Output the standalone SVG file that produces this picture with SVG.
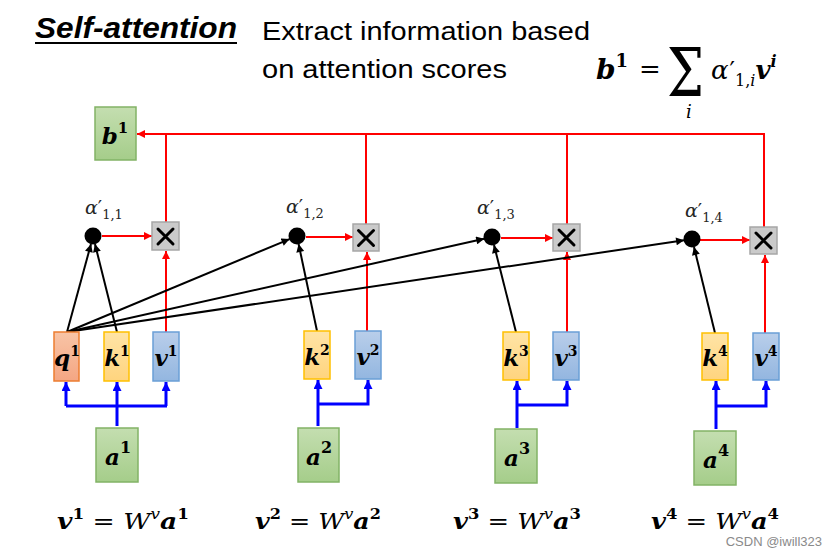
<svg xmlns="http://www.w3.org/2000/svg" width="833" height="557" viewBox="0 0 833 557">
<style>
.sans{font-family:"Liberation Sans",Arial,sans-serif;}
.math{font-family:"DejaVu Serif","Liberation Serif",serif;}
.bi{font-weight:bold;font-style:italic;}
.it{font-style:italic;font-weight:normal;}
.up{font-style:normal;font-weight:bold;}
.rm{font-style:normal;font-weight:normal;}
.lbl{font-family:"DejaVu Serif","Liberation Serif",serif;font-weight:bold;font-style:italic;font-size:23px;fill:#000;text-anchor:middle;}
.q{fill:url(#gq);stroke:#ED7D31;stroke-width:1.5;}
.k{fill:url(#gk);stroke:#FFC000;stroke-width:1.5;}
.v{fill:url(#gv);stroke:#6A9FD6;stroke-width:1.5;}
.g{fill:url(#gg);stroke:#82B366;stroke-width:1.5;}
.mul{fill:#CACACA;stroke:#A6A6A6;stroke-width:1.5;}
.xm{stroke:#000;stroke-width:3;stroke-linecap:round;}
.dot{fill:#000;}
.red{fill:none;stroke:#FF0000;stroke-width:2;}
.blk{fill:none;stroke:#000;stroke-width:2;}
.blu{fill:none;stroke:#0000FF;stroke-width:3;}
.alpha{font-family:"DejaVu Serif","Liberation Serif",serif;fill:#262626;}
</style>
<defs>
<linearGradient id="gq" x1="0" y1="0" x2="0" y2="1"><stop offset="0" stop-color="#F8C4A6"/><stop offset="1" stop-color="#F4A683"/></linearGradient>
<linearGradient id="gk" x1="0" y1="0" x2="0" y2="1"><stop offset="0" stop-color="#FFE4A6"/><stop offset="1" stop-color="#FFD47E"/></linearGradient>
<linearGradient id="gv" x1="0" y1="0" x2="0" y2="1"><stop offset="0" stop-color="#B9CEEA"/><stop offset="1" stop-color="#93B6E0"/></linearGradient>
<linearGradient id="gg" x1="0" y1="0" x2="0" y2="1"><stop offset="0" stop-color="#C4DEB0"/><stop offset="1" stop-color="#A5CD8A"/></linearGradient>
<marker id="ar" viewBox="0 0 10 10" refX="10" refY="5" markerWidth="9" markerHeight="8" markerUnits="userSpaceOnUse" orient="auto"><path d="M0,0 L10,5 L0,10 z" fill="#FF0000"/></marker>
<marker id="ab" viewBox="0 0 10 10" refX="10" refY="5" markerWidth="9" markerHeight="8" markerUnits="userSpaceOnUse" orient="auto"><path d="M0,0 L10,5 L0,10 z" fill="#000"/></marker>
<marker id="au" viewBox="0 0 10 10" refX="10" refY="5" markerWidth="9" markerHeight="9" markerUnits="userSpaceOnUse" orient="auto"><path d="M0,0 L10,5 L0,10 z" fill="#0000FF"/></marker>
</defs>
<rect width="833" height="557" fill="#FFFFFF"/>

<g id="title">
<text class="sans bi" x="35" y="38" font-size="29" textLength="202" lengthAdjust="spacingAndGlyphs" fill="#000">Self-attention</text>
<line x1="35" y1="43" x2="237" y2="43" stroke="#000" stroke-width="2"/>
<text class="sans" x="262" y="40" font-size="25" textLength="328" lengthAdjust="spacingAndGlyphs" fill="#000">Extract information based</text>
<text class="sans" x="262" y="78" font-size="25" textLength="245" lengthAdjust="spacingAndGlyphs" fill="#000">on attention scores</text>
</g>

<g id="formula" class="math" fill="#000">
<text x="596" y="79" font-size="28" class="bi">b<tspan class="up" font-size="18" dy="-12">1</tspan><tspan class="rm" font-size="26" x="639" y="78">=</tspan><tspan class="rm" font-size="68" x="667" y="96" textLength="37" lengthAdjust="spacingAndGlyphs">Σ</tspan><tspan class="it" font-size="18" x="686" y="118">i</tspan><tspan class="it" font-size="26" x="711" y="79">α</tspan><tspan class="rm" font-size="24" dx="1">′</tspan><tspan class="rm" font-size="16" dy="7">1,</tspan><tspan class="it" font-size="16">i</tspan><tspan font-size="26" class="bi" dy="-7">v</tspan><tspan font-size="16" dy="-12" class="bi">i</tspan></text>
</g>

<g id="connectors">
<path class="red" d="M765,134 L137,134" marker-end="url(#ar)"/>
<path class="red" d="M166,222 V134 M366,224 V134 M567,224 V134 M764,227 V134"/>
<path class="red" d="M102,236 H152" marker-end="url(#ar)"/>
<path class="red" d="M306,237 H353" marker-end="url(#ar)"/>
<path class="red" d="M501,238 H553" marker-end="url(#ar)"/>
<path class="red" d="M700,240 H750" marker-end="url(#ar)"/>
<path class="red" d="M166,332 V251" marker-end="url(#ar)"/>
<path class="red" d="M367,331 V252" marker-end="url(#ar)"/>
<path class="red" d="M567,332 V252" marker-end="url(#ar)"/>
<path class="red" d="M765,333 V255" marker-end="url(#ar)"/>
<path class="blk" d="M67,332 L91,244" marker-end="url(#ab)"/>
<path class="blk" d="M117,332 L95,244" marker-end="url(#ab)"/>
<path class="blk" d="M67,332 L289.6,239.1" marker-end="url(#ab)"/>
<path class="blk" d="M317,331 L298.6,244" marker-end="url(#ab)"/>
<path class="blk" d="M67,332 L484.2,238.7" marker-end="url(#ab)"/>
<path class="blk" d="M516,332 L494,245" marker-end="url(#ab)"/>
<path class="blk" d="M67,332 L684.1,240.2" marker-end="url(#ab)"/>
<path class="blk" d="M715,333 L694,247" marker-end="url(#ab)"/>
<path class="blu" d="M117,426 V382" marker-end="url(#au)"/>
<path class="blu" d="M66,406 H167"/>
<path class="blu" d="M66,406 V382" marker-end="url(#au)"/>
<path class="blu" d="M166,406 V382" marker-end="url(#au)"/>
<path class="blu" d="M318,426 V380" marker-end="url(#au)"/>
<path class="blu" d="M318,404 H368 V380" marker-end="url(#au)"/>
<path class="blu" d="M517,428 V381" marker-end="url(#au)"/>
<path class="blu" d="M517,405 H567 V381" marker-end="url(#au)"/>
<path class="blu" d="M716,429 V381" marker-end="url(#au)"/>
<path class="blu" d="M716,406 H766 V381" marker-end="url(#au)"/>
</g>

<g id="b1"><rect class="g" x="95" y="107" width="41" height="53"/><text class="lbl" x="115" y="144" font-size="25">b<tspan class="up" font-size="15" dy="-11">1</tspan></text></g>

<g id="alpha11"><circle class="dot" cx="93" cy="236" r="8.5"/><text class="alpha" x="85" y="214" font-size="19"><tspan class="it">α</tspan><tspan>′</tspan><tspan font-size="13" dy="5">1,1</tspan></text></g>
<g id="alpha12"><circle class="dot" cx="297" cy="236" r="8.5"/><text class="alpha" x="286" y="213" font-size="19"><tspan class="it">α</tspan><tspan>′</tspan><tspan font-size="13" dy="5">1,2</tspan></text></g>
<g id="alpha13"><circle class="dot" cx="492" cy="237" r="8.5"/><text class="alpha" x="477" y="214" font-size="19"><tspan class="it">α</tspan><tspan>′</tspan><tspan font-size="13" dy="5">1,3</tspan></text></g>
<g id="alpha14"><circle class="dot" cx="692" cy="239" r="8.5"/><text class="alpha" x="685" y="217" font-size="19"><tspan class="it">α</tspan><tspan>′</tspan><tspan font-size="13" dy="5">1,4</tspan></text></g>

<g id="mul1"><rect class="mul" x="152" y="222" width="27" height="28"/><path class="xm" d="M158,229 L173,244 M173,229 L158,244"/></g>
<g id="mul2"><rect class="mul" x="353" y="224" width="26" height="27"/><path class="xm" d="M358.5,230.5 L373.5,245.5 M373.5,230.5 L358.5,245.5"/></g>
<g id="mul3"><rect class="mul" x="553" y="224" width="27" height="27"/><path class="xm" d="M559,230 L574,245 M574,230 L559,245"/></g>
<g id="mul4"><rect class="mul" x="750" y="227" width="27" height="27"/><path class="xm" d="M756,233 L771,248 M771,233 L756,248"/></g>

<g id="q1"><rect class="q" x="54" y="332" width="25" height="49"/><text class="lbl" x="67" y="366">q<tspan class="up" font-size="14" dy="-10">1</tspan></text></g>
<g id="k1"><rect class="k" x="104" y="332" width="25" height="49"/><text class="lbl" x="117" y="366">k<tspan class="up" font-size="14" dy="-10">1</tspan></text></g>
<g id="v1"><rect class="v" x="153" y="332" width="26" height="49"/><text class="lbl" x="166" y="366">v<tspan class="up" font-size="14" dy="-10">1</tspan></text></g>
<g id="a1"><rect class="g" x="96" y="428" width="42" height="54"/><text class="lbl" x="118" y="465" font-size="26">a<tspan class="up" font-size="16" dy="-12">1</tspan></text></g>

<g id="k2"><rect class="k" x="304" y="331" width="26" height="48"/><text class="lbl" x="317" y="365">k<tspan class="up" font-size="14" dy="-10">2</tspan></text></g>
<g id="v2"><rect class="v" x="355" y="331" width="26" height="48"/><text class="lbl" x="368" y="365">v<tspan class="up" font-size="14" dy="-10">2</tspan></text></g>
<g id="a2"><rect class="g" x="298" y="428" width="41" height="54"/><text class="lbl" x="319" y="465" font-size="26">a<tspan class="up" font-size="16" dy="-12">2</tspan></text></g>

<g id="k3"><rect class="k" x="503" y="332" width="26" height="48"/><text class="lbl" x="516" y="366">k<tspan class="up" font-size="14" dy="-10">3</tspan></text></g>
<g id="v3"><rect class="v" x="553" y="332" width="26" height="48"/><text class="lbl" x="566" y="366">v<tspan class="up" font-size="14" dy="-10">3</tspan></text></g>
<g id="a3"><rect class="g" x="495" y="429" width="42" height="54"/><text class="lbl" x="517" y="466" font-size="26">a<tspan class="up" font-size="16" dy="-12">3</tspan></text></g>

<g id="k4"><rect class="k" x="702" y="333" width="26" height="47"/><text class="lbl" x="715" y="366">k<tspan class="up" font-size="14" dy="-10">4</tspan></text></g>
<g id="v4"><rect class="v" x="753" y="333" width="26" height="47"/><text class="lbl" x="766" y="366">v<tspan class="up" font-size="14" dy="-10">4</tspan></text></g>
<g id="a4"><rect class="g" x="694" y="431" width="42" height="54"/><text class="lbl" x="716" y="468" font-size="26">a<tspan class="up" font-size="16" dy="-12">4</tspan></text></g>

<g id="equations" class="math" font-size="22" fill="#000">
<text x="57" y="529" textLength="132" lengthAdjust="spacingAndGlyphs"><tspan class="bi">v</tspan><tspan class="up" font-size="14" dy="-10">1</tspan><tspan dy="10"> = </tspan><tspan class="it">W</tspan><tspan class="it" font-size="14" dy="-10">v</tspan><tspan class="bi" dy="10">a</tspan><tspan class="up" font-size="14" dy="-10">1</tspan></text>
<text x="255" y="529" textLength="126" lengthAdjust="spacingAndGlyphs"><tspan class="bi">v</tspan><tspan class="up" font-size="14" dy="-10">2</tspan><tspan dy="10"> = </tspan><tspan class="it">W</tspan><tspan class="it" font-size="14" dy="-10">v</tspan><tspan class="bi" dy="10">a</tspan><tspan class="up" font-size="14" dy="-10">2</tspan></text>
<text x="453" y="529" textLength="128" lengthAdjust="spacingAndGlyphs"><tspan class="bi">v</tspan><tspan class="up" font-size="14" dy="-10">3</tspan><tspan dy="10"> = </tspan><tspan class="it">W</tspan><tspan class="it" font-size="14" dy="-10">v</tspan><tspan class="bi" dy="10">a</tspan><tspan class="up" font-size="14" dy="-10">3</tspan></text>
<text x="651" y="529" textLength="128" lengthAdjust="spacingAndGlyphs"><tspan class="bi">v</tspan><tspan class="up" font-size="14" dy="-10">4</tspan><tspan dy="10"> = </tspan><tspan class="it">W</tspan><tspan class="it" font-size="14" dy="-10">v</tspan><tspan class="bi" dy="10">a</tspan><tspan class="up" font-size="14" dy="-10">4</tspan></text>
</g>

<g id="watermark"><text class="sans" x="822" y="546" font-size="13" fill="#8A8A8A" text-anchor="end">CSDN @iwill323</text></g>
</svg>
